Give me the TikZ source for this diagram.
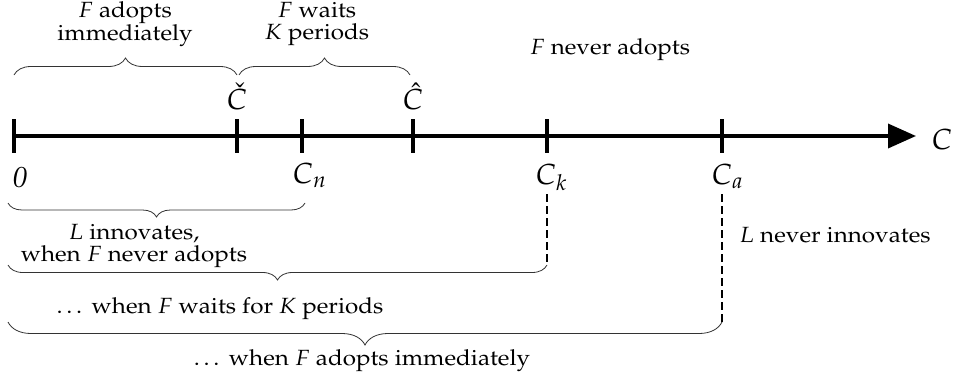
\documentclass[tikz,border=0pt]{standalone}
\usepackage[T1]{fontenc}
\usepackage{mathpazo}
\usepackage{graphicx}
\usetikzlibrary{arrows.meta,decorations.pathreplacing}
\newcommand{\hs}[1]{\scalebox{1.1}[1]{#1}}
\begin{document}
\begin{tikzpicture}[x=1pt,y=-1pt,
  font=\fontsize{22}{22}\selectfont,
  lbl/.style={inner sep=0pt},
  big/.style={inner sep=0pt,font=\fontsize{29}{30}\selectfont},
  axisline/.style={line width=3.6pt,-{Triangle[length=28pt,width=24pt]}},
  tickline/.style={line width=3.6pt},
  brc/.style={decorate,decoration={brace,amplitude=#1},draw=black!80,line width=0.8pt},
  dashline/.style={dash pattern=on 8pt off 4pt,line width=1.3pt}]
\useasboundingbox (0,0) rectangle (960,380);
% axis
\coordinate (t0) at (14,136);
\coordinate (t1) at (237,136);
\coordinate (t2) at (302,136);
\coordinate (t3) at (413,136);
\coordinate (t4) at (547,136);
\coordinate (t5) at (722,136);
\coordinate (tend) at (916,136);
\draw[axisline] (t0) -- (tend);
\foreach \t in {t0,t1,t2,t3,t4,t5}
  \draw[tickline] ([yshift=17pt]\t) -- ([yshift=-17pt]\t);
\node[big,anchor=base] (cax) at (942,149) {$C$};
% labels on axis
\node[big,anchor=base] (ccheck) at (237,109) {$\check{C}$};
\node[big,anchor=base] (chat) at (413,109) {$\hat{C}$};
\node[big,anchor=base] (zero) at (20,187) {\textit{0}};
\node[big,anchor=base] (cn) at (303,183) {$C\rlap{$_n$}$};
\node[big,anchor=base] (ck) at (546,184) {$C\rlap{$_k$}$};
\node[big,anchor=base] (ca) at (722,184) {$C\rlap{$_a$}$};
% top texts
\node[lbl,align=center] (fadopt) at (125,24) {\hs{$F$ adopts}\\\hs{immediately}};
\node[lbl,align=center] (fwait) at (317,24) {\hs{$F$ waits}\\\hs{$K$ periods}};
\node[lbl,anchor=base] (fnever) at (610,54) {\hs{$F$ never adopts}};
% top braces
\coordinate (b1l) at (14,75);
\coordinate (b1r) at (237,75);
\coordinate (b2l) at (239,75);
\coordinate (b2r) at (410,75);
\draw[brc=17] (b1l) -- (b1r);
\draw[brc=17] (b2l) -- (b2r);
% dashed lines
\coordinate (kt) at (547,194);
\coordinate (at) at (722,194);
\coordinate (kb) at (547,265);
\coordinate (ab) at (722,322);
\draw[dashline] (kt) -- (kb);
\draw[dashline] (at) -- (ab);
% bottom braces
\coordinate (l1r) at (305,203);
\coordinate (l1l) at (8,203);
\coordinate (l2l) at (8,265);
\coordinate (l3l) at (8,322);
\draw[brc=14] (l1r) -- (l1l);
\draw[brc=15] (kb) -- (l2l);
\draw[brc=23] (ab) -- (l3l);
% bottom texts
\node[lbl,align=center] (linn) at (134,246) {\hs{$L$ innovates,}\\\hs{when $F$ never adopts}};
\node[lbl,anchor=base] (wwait) at (220,313) {\hs{\ldots\ when $F$ waits for $K$ periods}};
\node[lbl,anchor=base] (wadopt) at (362,365) {\hs{\ldots\ when $F$ adopts immediately}};
\node[lbl,anchor=base] (lnever) at (835,242) {\hs{$L$ never innovates}};
\end{tikzpicture}
\end{document}
